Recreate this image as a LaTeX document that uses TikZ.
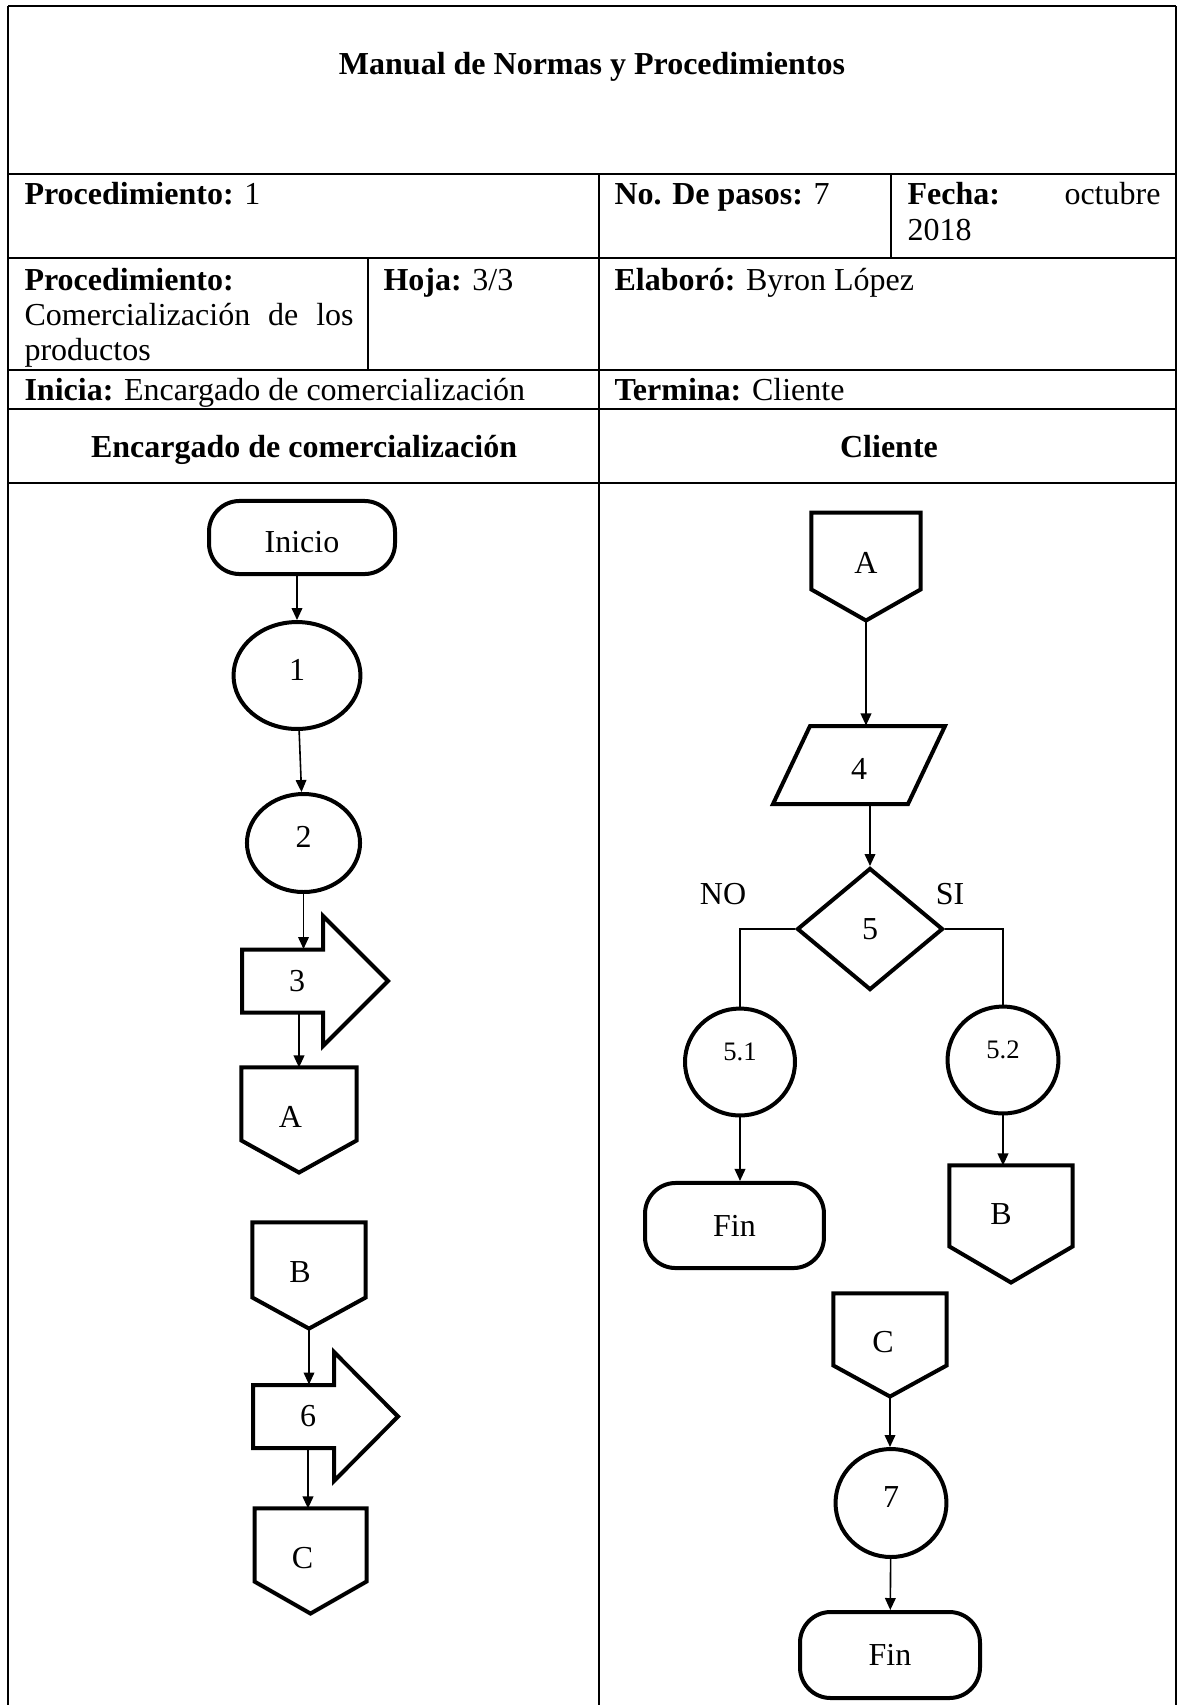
\documentclass[tikz,border=0pt]{standalone}
\usepackage{fontspec}
\setmainfont{Liberation Serif}
\usetikzlibrary{shapes.geometric,arrows.meta,calc}
\newcommand\offpg[2]{\draw[shapeline] (#1.north west) -- (#1.north east) -- ($(#1.south east)+(0,-#2)$) -- (#1.south) -- ($(#1.south west)+(0,-#2)$) -- cycle;}
\newcommand\txtleftby[2]{\kern-#1#2\kern#1}
\begin{document}
\begin{tikzpicture}[x=0.375pt,y=-0.375pt,
  font=\fontsize{12}{14.4}\selectfont,
  grid/.style={line width=0.6pt},
  txt/.style={anchor=base west,inner sep=0pt},
  ctxt/.style={anchor=base,inner sep=0pt},
  shapeline/.style={line width=1.5pt,line join=miter},
  proc/.style={ellipse,draw,line width=1.5pt,inner sep=0pt,text height=3.6pt,text depth=0pt},
  term/.style={rectangle,draw,line width=1.5pt,rounded corners=11.5pt,inner sep=0pt},
  box/.style={rectangle,inner sep=0pt,draw=none},
  offbox/.style={box,text height=5.5pt,text depth=0pt},
  flow/.style={line width=0.6pt,-{Triangle[width=4pt,length=4.5pt]}},
  link/.style={line width=0.6pt},
]
\fill[white] (0,0) rectangle (1178,1705);
\useasboundingbox (0,0) rectangle (1178,1705);

% ---------- table ----------
\draw[grid] (8,6) -- (1176,6);
\draw[grid] (8,6) -- (8,1705);
\draw[grid] (1176,6) -- (1176,1705);
\foreach \yy in {174,258,370,409,483} \draw[grid] (8,\yy) -- (1176,\yy);
\draw[grid] (599,174) -- (599,1705);
\draw[grid] (891,174) -- (891,258);
\draw[grid] (368,258) -- (368,370);

\node[ctxt] (title) at (592,74) {\textbf{Manual de Normas y Procedimientos}};
\node[txt] (proc1) at (24,204) {\textbf{Procedimiento:} 1};
\node[txt] (pasos) at (614,204) {\textbf{No. De pasos:} 7};
\node[txt] (fecha) at (907,204) {\textbf{Fecha:}};
\node[anchor=base east,inner sep=0pt] (oct) at (1161,204) {octubre};
\node[txt] (anio) at (907,240) {2018};
\node[txt] (proc2) at (24,290) {\textbf{Procedimiento:}};
\node[txt] (procname) at (24,325) {\makebox[123.4pt][s]{Comercialización de los}};
\node[txt] (procname2) at (24,360) {productos};
\node[txt] (hoja) at (383,290) {\textbf{Hoja:} 3/3};
\node[txt] (elab) at (614,290) {\textbf{Elaboró:} Byron López};
\node[txt] (inicia) at (24,400) {\textbf{Inicia:} Encargado de comercialización};
\node[txt] (termina) at (614,400) {\textbf{Termina:} Cliente};
\node[ctxt] (lane1) at (304,457) {\textbf{Encargado de comercialización}};
\node[ctxt] (lane2) at (889,457) {\textbf{Cliente}};

% ---------- left lane ----------
\node[term,minimum width=69.75pt,minimum height=27.4pt,text height=11.5pt,text depth=0pt] (ini) at (302,537.5) {Inicio};
\node[proc,minimum width=47.6pt,minimum height=40.1pt] (c1) at (297,675.5) {1};
\node[proc,minimum width=42.4pt,minimum height=36.75pt] (c2) at (303.5,843) {2};
\node[box,minimum width=10pt,minimum height=23.6pt] (a3) at (297,981) {3};
\draw[shapeline,shift={(a3.center)}] (-55,-31.5) -- (26,-31.5) -- (26,-65) -- (91,0) -- (26,65) -- (26,31.5) -- (-55,31.5) -- cycle;
\node[offbox,minimum width=42.75pt,minimum height=39pt] (lA) at (299,1120) {\txtleftby{3.2pt}{A}};
\offpg{lA}{32}
\node[offbox,minimum width=42pt,minimum height=39.4pt] (lB) at (309,1275.5) {\txtleftby{3.4pt}{B}};
\offpg{lB}{31}
\node[box,minimum width=10pt,minimum height=23.6pt] (a6) at (308,1416.5) {6};
\draw[shapeline,shift={(a6.center)}] (-55,-31.5) -- (26,-31.5) -- (26,-64.5) -- (90,0) -- (26,64.5) -- (26,31.5) -- (-55,31.5) -- cycle;
\node[offbox,minimum width=41.6pt,minimum height=39pt] (lC) at (310.5,1561) {\txtleftby{3pt}{C}};
\offpg{lC}{32}

\draw[flow] (c1.north |- ini.south) -- (c1.north);
\draw[flow] (c1) -- (c2);
\draw[flow] (c2.south) -- (c2.south |- a3.north);
\draw[flow] (lA.north |- a3.south) -- (lA.north);
\draw[flow] (lB.south) -- (lB.south |- a6.north);
\draw[flow] (a6.south) -- (a6.south |- lC.north);

% ---------- right lane ----------
\node[offbox,minimum width=40.5pt,minimum height=40.1pt] (rA) at (866,566.5) {A};
\offpg{rA}{31}
\node[box,minimum width=10pt,minimum height=29.25pt,text height=11pt,text depth=0pt] (p4) at (859,765) {4};
\draw[shapeline,shift={(p4.center)}] (-49,-39) -- (86,-39) -- (49,39) -- (-86,39) -- cycle;
\node[diamond,draw,line width=1.5pt,inner sep=0pt,minimum width=54.75pt,minimum height=45.75pt] (d5) at (870,929) {5};
\node[anchor=center,inner sep=0pt] (lno) at (723,894) {NO};
\node[anchor=center,inner sep=0pt] (lsi) at (950,894) {SI};
\node[proc,minimum width=41.25pt,minimum height=40.1pt,font=\fontsize{10}{12}\selectfont,text height=0pt,text depth=1.4pt] (c51) at (740,1062) {5.1};
\node[proc,minimum width=41.6pt,minimum height=40.1pt,font=\fontsize{10}{12}\selectfont,text height=0pt,text depth=1.4pt] (c52) at (1003,1060) {5.2};
\node[term,minimum width=67.1pt,minimum height=31.9pt] (f1) at (734.5,1225.5) {Fin};
\node[offbox,minimum width=45.75pt,minimum height=43.5pt,text height=0.6pt] (rB) at (1011,1224) {\txtleftby{3.7pt}{B}};
\offpg{rB}{36}
\node[offbox,minimum width=42pt,minimum height=38.25pt] (rC) at (890,1345) {\txtleftby{2.6pt}{C}};
\offpg{rC}{31}
\node[proc,minimum width=41.6pt,minimum height=40.5pt] (c7) at (891,1503) {7};
\node[term,minimum width=67.5pt,minimum height=32.25pt] (f2) at (890,1655) {Fin};

\draw[flow] (rA.south) -- (rA.south |- p4.north);
\draw[flow] (d5.north |- p4.south) -- (d5.north);
\draw[link] (d5.west) -| (c51.north);
\draw[link] (d5.east) -| (c52.north);
\draw[flow] (c51.south) -- (c51.south |- f1.north);
\draw[flow] (c52.south) -- (c52.south |- rB.north);
\draw[flow] (rC.south) -- (rC.south |- c7.north);
\draw[flow] (c7) -- (f2);
\end{tikzpicture}
\end{document}
